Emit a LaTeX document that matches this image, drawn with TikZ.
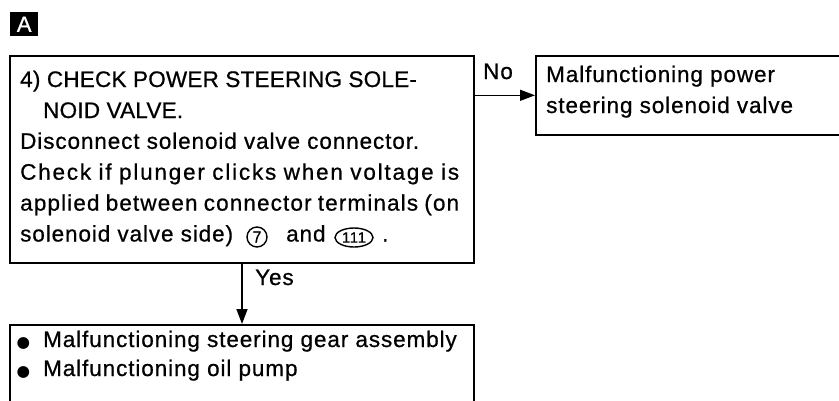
\documentclass[tikz,border=0pt]{standalone}
\usepackage{fontspec}
\setmainfont{Liberation Sans}[LetterSpace=4,FakeBold=0.7]
\newfontfamily\dejavu{DejaVu Sans}
\usetikzlibrary{shapes.geometric,arrows.meta}
\newcommand{\txtsize}{\fontsize{22.5}{27}\selectfont}
\newcommand{\bigbul}{\makebox[29pt][l]{\hspace{2.5pt}\dejavu\fontsize{15.5}{15.5}\selectfont ●}}
\tikzset{
  box/.style={draw, line width=1.6pt, rectangle, inner sep=0pt, anchor=north west},
  txt/.style={anchor=base west, inner sep=0pt, font=\txtsize},
  arr/.style={line width=1.4pt, -{Triangle[length=15pt,width=11pt]}},
  cnum/.style={draw, line width=1.4pt, inner sep=0pt, font=\fontsize{16}{16}\selectfont},
}
\begin{document}
\begin{tikzpicture}[x=1pt,y=-1pt]
\useasboundingbox (0,0) rectangle (839,400);
\clip (0,0) rectangle (839,400);
% tag
\node[fill=black, text=white, inner sep=0pt, minimum width=28pt, minimum height=24pt,
      anchor=north west, font=\fontsize{22}{22}\selectfont] (tag) at (10,12) {A};
% boxes
\node[box, minimum width=464pt, minimum height=207pt] (check) at (9,55) {};
\node[box, minimum width=330pt, minimum height=79pt] (malf) at (535,55) {};
\node[box, minimum width=464pt, minimum height=110pt] (gear) at (9,324) {};
% main text
\node[txt] (l1) at (20,87) {\addfontfeatures{LetterSpace=1}4) CHECK POWER STEERING SOLE-};
\node[txt] (l2) at (43,118) {\addfontfeatures{LetterSpace=1}NOID VALVE.};
\node[txt] (l3) at (20,148.8) {Disconnect solenoid valve connector.};
\node[txt] (l4) at (20,179.7) {\addfontfeatures{LetterSpace=8}\makebox[439pt][s]{Check if plunger clicks when voltage is}};
\node[txt] (l5) at (20,210.6) {\addfontfeatures{LetterSpace=5}\makebox[439pt][s]{applied between connector terminals (on}};
\node[txt] (l6) at (20,241.5) {solenoid valve side)};
\node[cnum, circle, minimum size=20pt] (c7) at (257,237) {7};
\node[txt] (l6b) at (286,241.5) {and};
\node[cnum, ellipse, minimum width=38pt, minimum height=19pt, font=\fontsize{15}{15}\selectfont] (c111) at (354,237.5) {111};
\node[txt] (l6c) at (382,241.5) {.};
% right text
\node[txt] (r1) at (546,82) {Malfunctioning power};
\node[txt] (r2) at (546,113) {steering solenoid valve};
% bottom text
\node[txt] (b1) at (14,347) {\bigbul Malfunctioning steering gear assembly};
\node[txt] (b2) at (14,376) {\bigbul Malfunctioning oil pump};
% connectors
\draw[arr] (check.east |- malf.west) -- (malf.west);
\node[txt] (no) at (483,79) {No};
\draw[arr] (check.south -| 242,0) -- (gear.north -| 242,0);
\node[txt] (yes) at (255,285) {Yes};
\end{tikzpicture}
\end{document}
